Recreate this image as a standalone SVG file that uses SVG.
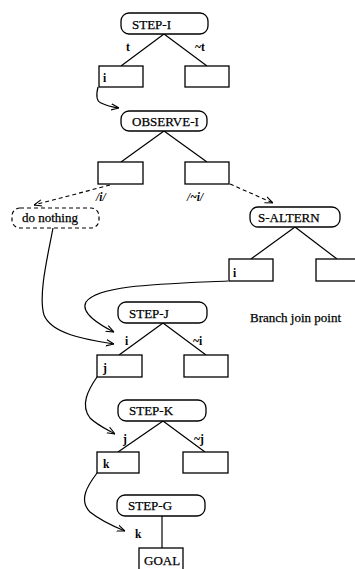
<svg xmlns="http://www.w3.org/2000/svg" width="355" height="569" viewBox="0 0 355 569">
<defs>
<style>
.n{fill:#fff;stroke:#000;stroke-width:1.3}
.d{fill:#fff;stroke:#000;stroke-width:1.2;stroke-dasharray:4 3}
.b{fill:#fff;stroke:#000;stroke-width:1.3}
.t{font-family:"Liberation Serif","Times New Roman",serif;font-size:13px;fill:#000;stroke:#000;stroke-width:0.25}
.s{font-family:"Liberation Serif","Times New Roman",serif;font-size:11.5px;font-weight:bold;fill:#000}
.it{font-family:"Liberation Serif","Times New Roman",serif;font-size:11.5px;font-weight:bold;font-style:italic;fill:#000}
.e{stroke:#000;stroke-width:1.2;fill:none}
.c{stroke:#000;stroke-width:1.2;fill:none;marker-end:url(#arr)}
.cd{stroke:#000;stroke-width:1.1;fill:none;stroke-dasharray:4 3;marker-end:url(#arr)}
</style>
<marker id="arr" viewBox="0 0 10 10" refX="10" refY="5" markerWidth="8" markerHeight="8" markerUnits="userSpaceOnUse" orient="auto">
<path d="M0,1 L10,5 L0,9" fill="none" stroke="#000" stroke-width="1.4"/>
</marker>
</defs>

<g id="connectors">
<path class="e" d="M164,34 L121,66 M164,34 L207,66"/>
<path class="e" d="M164,131 L121,162 M164,131 L207,162"/>
<path class="e" d="M295,227 L251,259 M295,227 L337,259"/>
<path class="e" d="M163,323 L119,355 M163,323 L206,355"/>
<path class="e" d="M163,421 L118,452 M163,421 L205,452"/>
<path class="e" d="M162,516 L162,548"/>
<path class="c" d="M98,87 C96,95 96,101 101,103 C107,106 112,107 119,108"/>
<path class="cd" d="M110,185 L34,205"/>
<path class="cd" d="M230,184 L273,203"/>
<path class="c" d="M53,228 C48,255 38,295 44,315 C52,335 90,340 114,344"/>
<path class="c" d="M228,281 C160,284 98,285 86,302 C80,313 100,325 114,332"/>
<path class="c" d="M97,377 C88,390 80,405 90,418 C97,425 108,430 115,434"/>
<path class="c" d="M97,473 C88,485 78,500 90,512 C100,520 115,527 125,531"/>
</g>

<g id="step-i"><rect class="n" x="121" y="13" width="87" height="21" rx="8"/><text class="t" x="132" y="29">STEP-I</text></g>
<g id="lbl-t"><text class="s" x="126" y="51">t</text><text class="s" x="195" y="51">~t</text></g>
<g id="box-i1"><rect class="b" x="99" y="66" width="44" height="21"/><text class="s" x="103" y="82">i</text></g>
<g id="box-nt"><rect class="b" x="185" y="66" width="44" height="21"/></g>

<g id="observe-i"><rect class="n" x="121" y="111" width="86" height="20" rx="8"/><text class="t" x="132" y="126">OBSERVE-I</text></g>
<g id="box-oi"><rect class="b" x="98" y="162" width="45" height="22"/></g>
<g id="box-oni"><rect class="b" x="185" y="162" width="44" height="22"/></g>
<g id="lbl-obs"><text class="it" x="96" y="201">/i/</text><text class="it" x="187" y="201">/~i/</text></g>

<g id="do-nothing"><rect class="d" x="12" y="208" width="87" height="20" rx="8"/><text class="t" x="22" y="222">do nothing</text></g>
<g id="s-altern"><rect class="n" x="250" y="207" width="90" height="20" rx="8"/><text class="t" x="258" y="222">S-ALTERN</text></g>
<g id="box-si"><rect class="b" x="229" y="259" width="44" height="22"/><text class="s" x="233" y="277">i</text></g>
<g id="box-sn"><rect class="b" x="316" y="259" width="50" height="22"/></g>

<g id="step-j"><rect class="n" x="118" y="302" width="89" height="21" rx="8"/><text class="t" x="129" y="318">STEP-J</text></g>
<g id="note"><text class="t" x="250" y="322">Branch join point</text></g>
<g id="lbl-j"><text class="s" x="125" y="345">i</text><text class="s" x="193" y="345">~i</text></g>
<g id="box-j"><rect class="b" x="97" y="355" width="45" height="22"/><text class="s" x="103" y="372">j</text></g>
<g id="box-nj"><rect class="b" x="184" y="355" width="44" height="22"/></g>

<g id="step-k"><rect class="n" x="118" y="400" width="88" height="21" rx="8"/><text class="t" x="129" y="415">STEP-K</text></g>
<g id="lbl-k"><text class="s" x="123" y="443">j</text><text class="s" x="194" y="443">~j</text></g>
<g id="box-k"><rect class="b" x="97" y="452" width="42" height="21"/><text class="s" x="103" y="468">k</text></g>
<g id="box-nk"><rect class="b" x="183" y="452" width="45" height="21"/></g>

<g id="step-g"><rect class="n" x="117" y="495" width="88" height="21" rx="8"/><text class="t" x="128" y="510">STEP-G</text></g>
<g id="lbl-g"><text class="s" x="135" y="538">k</text></g>
<g id="goal"><rect class="b" x="139" y="548" width="44" height="24"/><text class="t" x="144" y="565">GOAL</text></g>
</svg>
